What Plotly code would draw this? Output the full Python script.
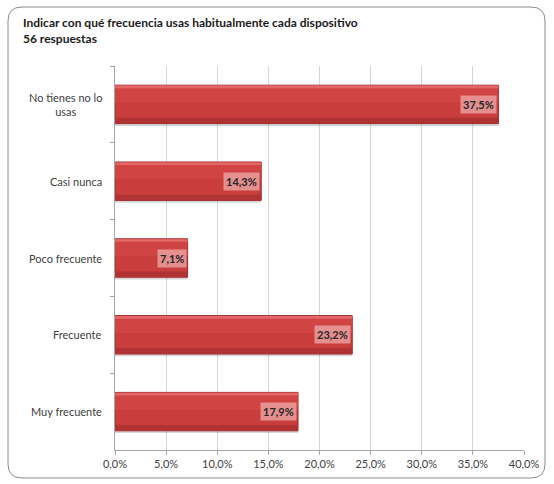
import plotly.graph_objects as go

# Survey results: how often each device is used (56 responses)
categories = ["No tienes no lo<br>usas", "Casi nunca", "Poco frecuente", "Frecuente", "Muy frecuente"]
values = [37.5, 14.3, 7.1, 23.2, 17.9]
x_ticks = [0, 5, 10, 15, 20, 25, 30, 35, 40]
title_lines = ["Indicar con qué frecuencia usas habitualmente cada dispositivo", "56 respuestas"]

W, H = 554, 484
L, R, T, B = 115, 30, 66, 34
PW, PH = W - L - R, H - T - B

FONT = "Lato, 'Open Sans', sans-serif"


def px_x(p):
    return (p - L) / PW


def px_y(p):
    return (H - B - p) / PH


def pct(v):
    return f"{v:.1f}".replace(".", ",") + "%"


fig = go.Figure()

# soft drop shadow under each bar
fig.add_trace(go.Bar(
    y=categories, x=values, orientation="h", width=0.5, offset=-0.22,
    marker=dict(color="rgba(90,90,90,0.25)", line=dict(width=0)),
    hoverinfo="skip", showlegend=False,
))
# main bar body
fig.add_trace(go.Bar(
    y=categories, x=values, orientation="h", width=0.5,
    marker=dict(color="#c93d3d", line=dict(color="#a02a2a", width=1)),
    showlegend=False,
))
# slightly lighter upper half
fig.add_trace(go.Bar(
    y=categories, x=values, orientation="h", width=0.22, offset=-0.245,
    marker=dict(color="#d14444", line=dict(width=0)),
    hoverinfo="skip", showlegend=False,
))
# highlight along the top edge
fig.add_trace(go.Bar(
    y=categories, x=values, orientation="h", width=0.035, offset=-0.245,
    marker=dict(color="#e26767", line=dict(width=0)),
    hoverinfo="skip", showlegend=False,
))
# darker lower edge
fig.add_trace(go.Bar(
    y=categories, x=values, orientation="h", width=0.07, offset=0.175,
    marker=dict(color="#b03232", line=dict(width=0)),
    hoverinfo="skip", showlegend=False,
))

annotations = []
# value labels at the end of each bar
for c, v in zip(categories, values):
    annotations.append(dict(
        x=v, y=c, xref="x", yref="y", xanchor="right", yanchor="middle",
        text="<b>" + pct(v) + "</b>",
        showarrow=False, xshift=-1,
        font=dict(family=FONT, size=11, color="#262626"),
        bgcolor="rgba(238,170,170,0.75)", borderpad=2,
    ))
# category labels (centred multi-line)
for c in categories:
    annotations.append(dict(
        x=0, y=c, xref="paper", yref="y", xanchor="right", yanchor="middle",
        xshift=-11, text=c, align="center", showarrow=False,
        font=dict(family=FONT, size=11, color="#404040"),
    ))
# chart title
annotations.append(dict(
    x=px_x(21), y=px_y(13), xref="paper", yref="paper",
    xanchor="left", yanchor="top", align="left", showarrow=False,
    text="<b>" + "<br>".join(title_lines) + "</b>",
    font=dict(family=FONT, size=12, color="#1a1a1a"),
))

# rounded frame around the chart
x0, x1, y0, y1, r = 8, 545, 7, 478, 14
path = (
    f"M {px_x(x0 + r)},{px_y(y0)} L {px_x(x1 - r)},{px_y(y0)} "
    f"Q {px_x(x1)},{px_y(y0)} {px_x(x1)},{px_y(y0 + r)} "
    f"L {px_x(x1)},{px_y(y1 - r)} "
    f"Q {px_x(x1)},{px_y(y1)} {px_x(x1 - r)},{px_y(y1)} "
    f"L {px_x(x0 + r)},{px_y(y1)} "
    f"Q {px_x(x0)},{px_y(y1)} {px_x(x0)},{px_y(y1 - r)} "
    f"L {px_x(x0)},{px_y(y0 + r)} "
    f"Q {px_x(x0)},{px_y(y0)} {px_x(x0 + r)},{px_y(y0)} Z"
)

fig.update_layout(
    width=W, height=H,
    margin=dict(l=L, r=R, t=T, b=B),
    paper_bgcolor="white", plot_bgcolor="white",
    barmode="overlay", bargap=0.5,
    annotations=annotations,
    shapes=[dict(type="path", path=path, xref="paper", yref="paper",
                 line=dict(color="#8a8a8a", width=1), layer="below")],
    xaxis=dict(
        range=[0, 40], tickmode="array", tickvals=x_ticks,
        ticktext=[pct(t) for t in x_ticks],
        showgrid=True, gridcolor="#d6d6d6", gridwidth=1,
        showline=True, linecolor="#a6a6a6", linewidth=1,
        ticks="outside", ticklen=4, tickcolor="#a6a6a6",
        zeroline=False,
        tickfont=dict(family=FONT, size=11, color="#404040"),
    ),
    yaxis=dict(
        autorange="reversed", showticklabels=False,
        showline=True, linecolor="#a6a6a6", linewidth=1,
        ticks="outside", ticklen=4, tickcolor="#a6a6a6",
        tickson="boundaries", showgrid=False,
    ),
)

fig.write_html("out.html")
